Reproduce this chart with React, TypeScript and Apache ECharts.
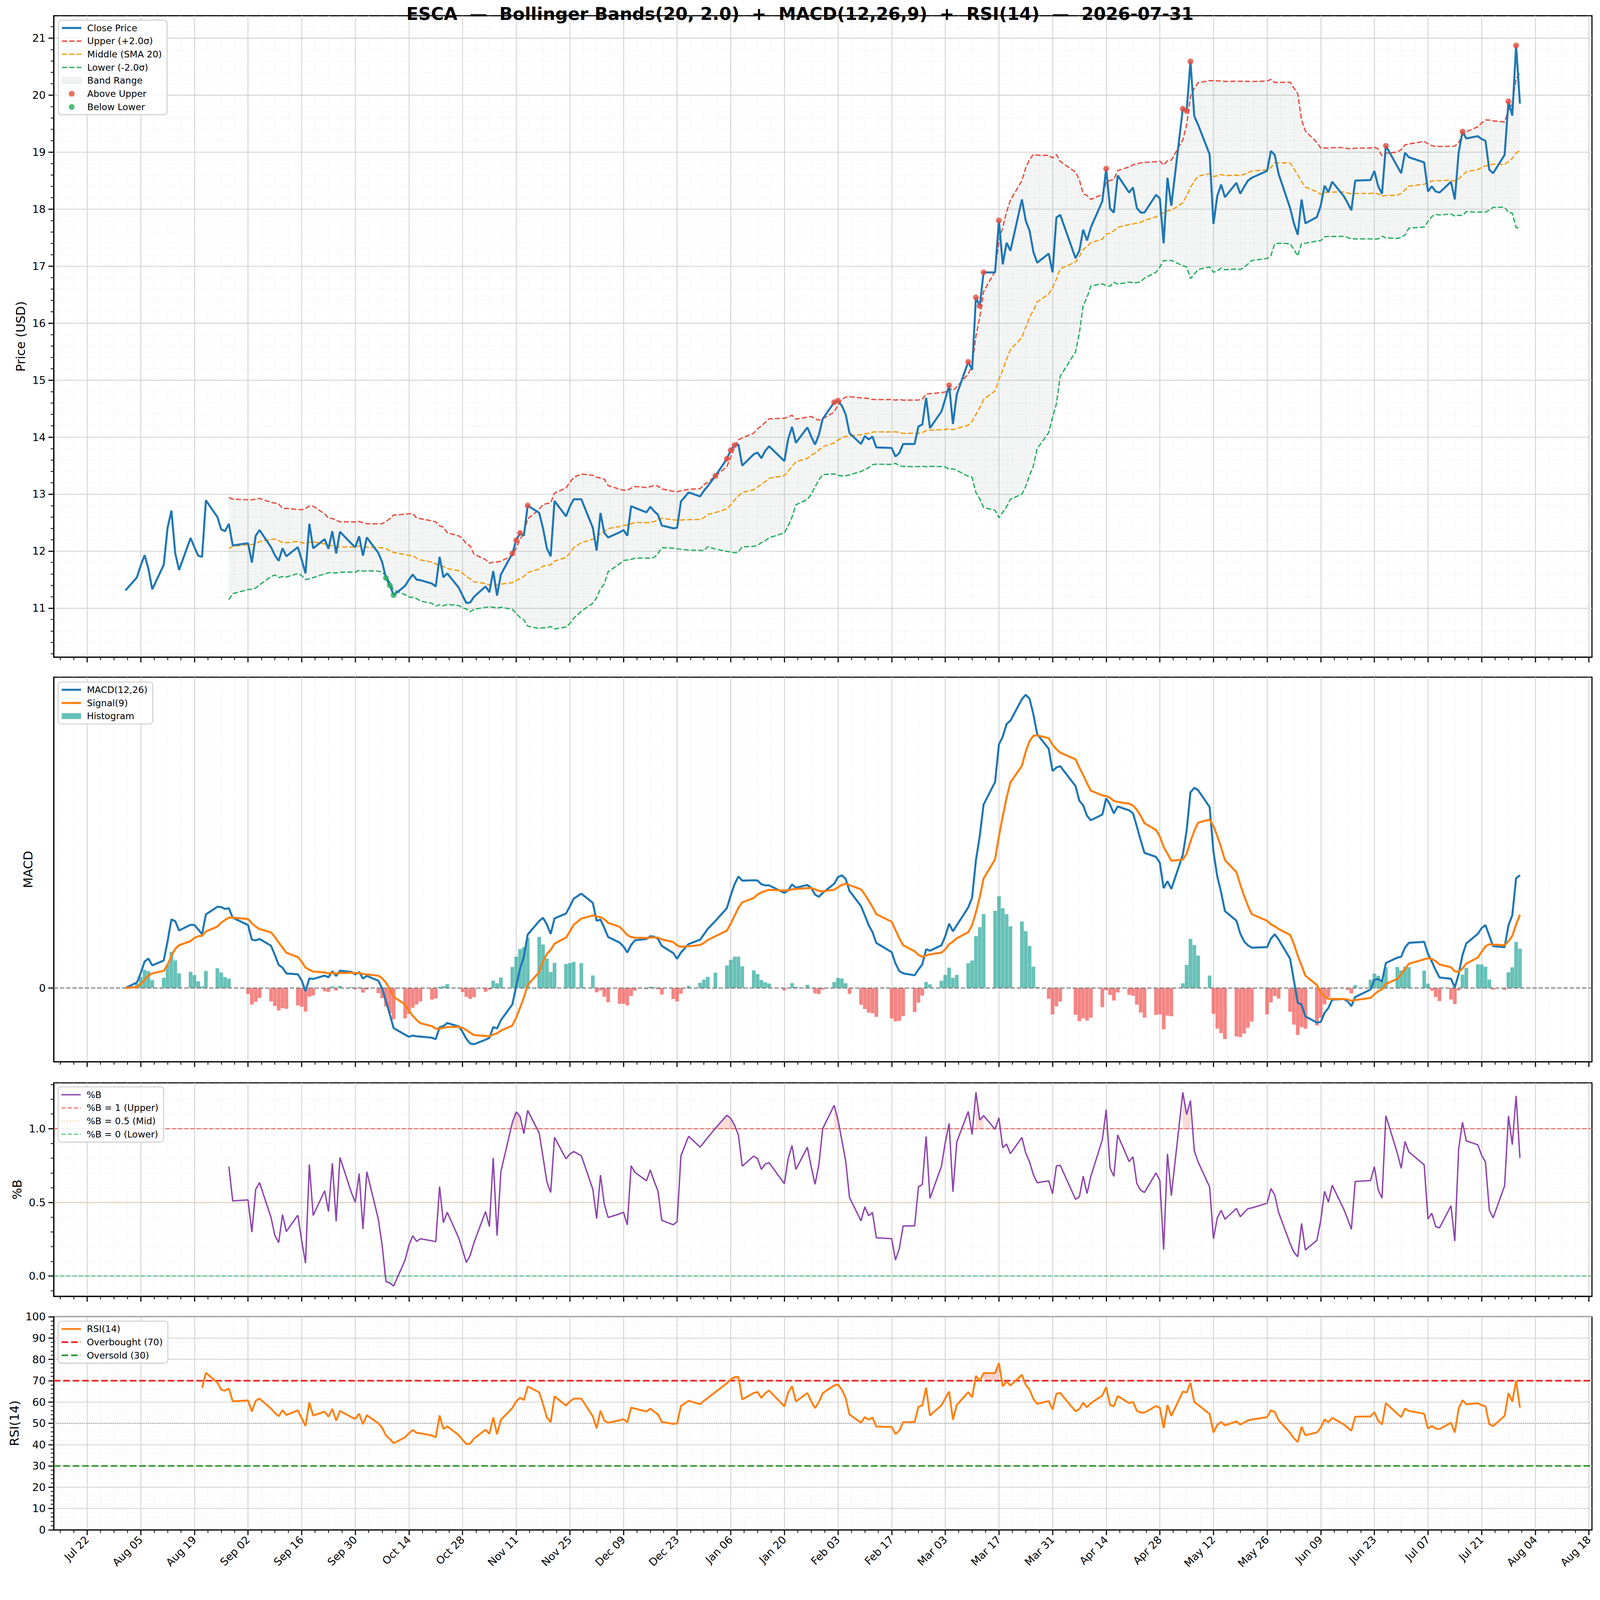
import React, { useEffect, useRef } from 'react';
import * as echarts from 'echarts';

const TITLE = 'ESCA  —  Bollinger Bands(20, 2.0)  +  MACD(12,26,9)  +  RSI(14)  —  2026-07-31';
const BASE_DATE = '2025-07-22';

const DATES = [
  '2025-08-01','2025-08-04','2025-08-05','2025-08-06','2025-08-07','2025-08-08','2025-08-11','2025-08-12','2025-08-13','2025-08-14','2025-08-15','2025-08-18','2025-08-19','2025-08-20','2025-08-21','2025-08-22','2025-08-25','2025-08-26','2025-08-27','2025-08-28','2025-08-29',
  '2025-09-02','2025-09-03','2025-09-04','2025-09-05','2025-09-08','2025-09-09','2025-09-10','2025-09-11','2025-09-12','2025-09-15','2025-09-16','2025-09-17','2025-09-18','2025-09-19','2025-09-22','2025-09-23','2025-09-24','2025-09-25','2025-09-26','2025-09-29','2025-09-30',
  '2025-10-01','2025-10-02','2025-10-03','2025-10-06','2025-10-07','2025-10-08','2025-10-09','2025-10-10','2025-10-13','2025-10-14','2025-10-15','2025-10-16','2025-10-17','2025-10-20','2025-10-21','2025-10-22','2025-10-23','2025-10-24','2025-10-27','2025-10-28','2025-10-29','2025-10-30','2025-10-31',
  '2025-11-03','2025-11-04','2025-11-05','2025-11-06','2025-11-07','2025-11-10','2025-11-11','2025-11-12','2025-11-13','2025-11-14','2025-11-17','2025-11-18','2025-11-19','2025-11-20','2025-11-21','2025-11-24','2025-11-25','2025-11-26','2025-11-28',
  '2025-12-01','2025-12-02','2025-12-03','2025-12-04','2025-12-05','2025-12-08','2025-12-09','2025-12-10','2025-12-11','2025-12-12','2025-12-15','2025-12-16','2025-12-17','2025-12-18','2025-12-19','2025-12-22','2025-12-23','2025-12-24','2025-12-26','2025-12-29','2025-12-30','2025-12-31',
  '2026-01-02','2026-01-05','2026-01-06','2026-01-07','2026-01-08','2026-01-09','2026-01-12','2026-01-13','2026-01-14','2026-01-15','2026-01-16','2026-01-20','2026-01-21','2026-01-22','2026-01-23','2026-01-26','2026-01-27','2026-01-28','2026-01-29','2026-01-30',
  '2026-02-02','2026-02-03','2026-02-04','2026-02-05','2026-02-06','2026-02-09','2026-02-10','2026-02-11','2026-02-12','2026-02-13','2026-02-17','2026-02-18','2026-02-19','2026-02-20','2026-02-23','2026-02-24','2026-02-25','2026-02-26','2026-02-27',
  '2026-03-02','2026-03-03','2026-03-04','2026-03-05','2026-03-06','2026-03-09','2026-03-10','2026-03-11','2026-03-12','2026-03-13','2026-03-16','2026-03-17','2026-03-18','2026-03-19','2026-03-20','2026-03-23','2026-03-24','2026-03-25','2026-03-26','2026-03-27','2026-03-30','2026-03-31',
  '2026-04-01','2026-04-02','2026-04-06','2026-04-07','2026-04-08','2026-04-09','2026-04-10','2026-04-13','2026-04-14','2026-04-15','2026-04-16','2026-04-17','2026-04-20','2026-04-21','2026-04-22','2026-04-23','2026-04-24','2026-04-27','2026-04-28','2026-04-29','2026-04-30',
  '2026-05-01','2026-05-04','2026-05-05','2026-05-06','2026-05-07','2026-05-08','2026-05-11','2026-05-12','2026-05-13','2026-05-14','2026-05-15','2026-05-18','2026-05-19','2026-05-20','2026-05-21','2026-05-22','2026-05-26','2026-05-27','2026-05-28','2026-05-29',
  '2026-06-01','2026-06-02','2026-06-03','2026-06-04','2026-06-05','2026-06-08','2026-06-09','2026-06-10','2026-06-11','2026-06-12','2026-06-15','2026-06-16','2026-06-17','2026-06-18','2026-06-22','2026-06-23','2026-06-24','2026-06-25','2026-06-26','2026-06-29','2026-06-30',
  '2026-07-01','2026-07-02','2026-07-06','2026-07-07','2026-07-08','2026-07-09','2026-07-10','2026-07-13','2026-07-14','2026-07-15','2026-07-16','2026-07-17','2026-07-20','2026-07-21','2026-07-22','2026-07-23','2026-07-24','2026-07-27','2026-07-28','2026-07-29','2026-07-30','2026-07-31',
];

const CLOSE = [
  11.31,11.54,11.75,11.93,11.69,11.33,11.76,12.41,12.71,11.96,11.67,12.23,12.07,11.92,11.90,12.89,12.60,12.38,12.35,12.48,12.10,
  12.14,11.80,12.27,12.37,12.07,11.93,11.83,12.05,11.91,12.07,11.85,11.61,12.48,12.05,12.21,12.04,12.35,11.96,12.34,12.13,12.07,
  12.26,11.92,12.24,11.97,11.81,11.53,11.40,11.23,11.39,11.50,11.59,11.50,11.49,11.43,11.38,11.90,11.54,11.61,11.36,11.22,11.09,11.10,11.20,
  11.38,11.28,11.65,11.22,11.59,11.96,12.19,12.32,12.27,12.80,12.67,12.40,12.05,11.91,12.88,12.61,12.78,12.91,12.91,
  12.41,12.01,12.67,12.32,12.24,12.33,12.37,12.27,12.79,12.76,12.68,12.78,12.70,12.64,12.45,12.40,12.41,12.87,13.03,12.96,13.06,13.14,
  13.32,13.62,13.77,13.86,13.87,13.50,13.70,13.73,13.63,13.76,13.84,13.58,13.97,14.18,13.90,14.17,14.01,13.87,14.04,14.32,
  14.61,14.64,14.55,14.40,14.07,13.88,14.02,13.96,14.01,13.82,13.81,13.66,13.72,13.88,13.88,14.19,14.22,14.69,14.16,
  14.45,14.67,14.91,14.23,14.75,15.32,15.18,16.45,16.30,16.89,16.89,17.80,17.03,17.41,17.27,18.17,17.80,17.62,17.25,17.06,17.22,16.89,
  17.85,17.90,17.14,17.27,17.64,17.45,17.68,18.14,18.71,18.01,17.94,18.59,18.29,18.38,18.02,17.94,17.94,18.25,18.19,17.40,18.55,
  18.06,19.76,19.72,20.59,19.63,19.48,18.96,17.74,18.23,18.43,18.21,18.46,18.27,18.39,18.50,18.55,18.67,19.02,18.95,18.62,
  18.02,17.75,17.55,18.17,17.75,17.86,18.06,18.41,18.30,18.48,18.23,18.11,17.98,18.50,18.51,18.67,18.40,18.27,19.11,18.75,18.63,
  18.99,18.91,18.82,18.31,18.40,18.31,18.29,18.48,18.17,18.99,19.36,19.24,19.28,19.23,19.20,18.69,18.63,18.95,19.89,19.64,20.87,19.85,
];

const X_TICK_DATES = [
  '2025-07-22','2025-08-05','2025-08-19','2025-09-02','2025-09-16','2025-09-30','2025-10-14','2025-10-28','2025-11-11','2025-11-25','2025-12-09','2025-12-23',
  '2026-01-06','2026-01-20','2026-02-03','2026-02-17','2026-03-03','2026-03-17','2026-03-31','2026-04-14','2026-04-28','2026-05-12','2026-05-26','2026-06-09',
  '2026-06-23','2026-07-07','2026-07-21','2026-08-04','2026-08-18',
];
const MONTHS = ['Jan','Feb','Mar','Apr','May','Jun','Jul','Aug','Sep','Oct','Nov','Dec'];
const PRICE_TICKS = [11, 12, 13, 14, 15, 16, 17, 18, 19, 20, 21];
const PCTB_TICKS = [0, 0.5, 1.0];
const RSI_TICKS = [0, 10, 20, 30, 40, 50, 60, 70, 80, 90, 100];
const MACD_TICKS = [0];

const BB_WINDOW = 20, BB_K = 2.0, RSI_N = 14;

const FONT = 'DejaVu Sans';
const W = 4378, H = 4322;
const X_MIN = -8.72, X_MAX = 392.8;
const PRICE_MIN = 10.141, PRICE_MAX = 21.393;
const PCTB_MIN = -0.1373, PCTB_MAX = 1.3107;

const ms = (s: string) => { const [y, m, d] = s.split('-').map(Number); return Date.UTC(y, m - 1, d); };
const BASE_MS = ms(BASE_DATE);
const dayNum = (s: string) => (ms(s) - BASE_MS) / 86400000;
const fmtDay = (v: number) => {
  const t = new Date(BASE_MS + Math.round(v) * 86400000);
  return MONTHS[t.getUTCMonth()] + ' ' + String(t.getUTCDate()).padStart(2, '0');
};

function compute() {
  const xs = DATES.map(dayNum);
  const n = CLOSE.length;
  const upper: (number | null)[] = [], mid: (number | null)[] = [], lower: (number | null)[] = [], pctb: (number | null)[] = [];
  for (let i = 0; i < n; i++) {
    if (i < BB_WINDOW - 1) { upper.push(null); mid.push(null); lower.push(null); pctb.push(null); continue; }
    const w = CLOSE.slice(i - BB_WINDOW + 1, i + 1);
    const m = w.reduce((a, b) => a + b, 0) / BB_WINDOW;
    const sd = Math.sqrt(w.reduce((a, b) => a + (b - m) * (b - m), 0) / (BB_WINDOW - 1));
    const u = m + BB_K * sd, l = m - BB_K * sd;
    upper.push(u); mid.push(m); lower.push(l); pctb.push((CLOSE[i] - l) / (u - l));
  }
  const ema = (arr: number[], span: number) => {
    const a = 2 / (span + 1); const out: number[] = [];
    arr.forEach((v, i) => out.push(i === 0 ? v : a * v + (1 - a) * out[i - 1]));
    return out;
  };
  const e12 = ema(CLOSE, 12), e26 = ema(CLOSE, 26);
  const macd = e12.map((v, i) => v - e26[i]);
  const signal = ema(macd, 9);
  const hist = macd.map((v, i) => v - signal[i]);
  const rsi: (number | null)[] = [null];
  let ag = 0, al = 0;
  const alpha = 1 / RSI_N;
  for (let i = 1; i < n; i++) {
    const d = CLOSE[i] - CLOSE[i - 1];
    const g = Math.max(d, 0), l = Math.max(-d, 0);
    if (i === 1) { ag = g; al = l; } else { ag = (1 - alpha) * ag + alpha * g; al = (1 - alpha) * al + alpha * l; }
    rsi.push(i >= RSI_N ? (al === 0 ? 100 : 100 - 100 / (1 + ag / al)) : null);
  }
  return { xs, upper, mid, lower, pctb, macd, signal, hist, rsi };
}

function fillRuns(ys: (number | null)[], thr: number, above: boolean) {
  const runs: number[][] = [];
  let cur: number[] = [];
  for (let i = 0; i < ys.length; i++) {
    const y = ys[i];
    const ok = y != null && (above ? y > thr : y < thr);
    if (ok) cur.push(i); else { if (cur.length > 1) runs.push(cur); cur = []; }
  }
  if (cur.length > 1) runs.push(cur);
  return runs;
}

export default function App() {
  const ref = useRef<HTMLDivElement>(null);
  const vw = typeof window !== 'undefined' ? window.innerWidth : W;
  const vh = typeof window !== 'undefined' ? window.innerHeight : H;
  const s = Math.min(1, vw / W, vh / H);

  useEffect(() => {
    document.body.style.margin = '0';
    document.body.style.overflow = 'hidden';
    if (!ref.current) return;
    const chart = echarts.init(ref.current, null, { renderer: 'svg', width: W, height: H });
    const D = compute();
    const { xs } = D;
    const pair = (a: (number | null)[]) => a.map((v, i) => [xs[i], v]).filter(p => p[1] != null);

    const xMajor = X_TICK_DATES.map(dayNum);
    const xMinor: number[] = [];
    for (let k = -2; k * 3.5 <= X_MAX; k++) { if (k % 4 !== 0) xMinor.push(k * 3.5); }
    const priceMinor: number[] = [];
    for (let k = 51; k <= 106; k++) if (k % 5 !== 0) priceMinor.push(+(k * 0.2).toFixed(2));
    const pctbMinor: number[] = [];
    for (let k = -1; k <= 13; k++) if (k % 5 !== 0) pctbMinor.push(+(k * 0.1).toFixed(2));
    const rsiMinor: number[] = [];
    for (let k = 1; k < 50; k++) if (k % 5 !== 0) rsiMinor.push(k * 2);

    const allM = [...D.macd, ...D.signal, ...D.hist];
    const mMin = Math.min(...allM), mMax = Math.max(...allM);
    const mPad = (mMax - mMin) * 0.05;

    const GRIDS = [
      { top: 43, height: 1755 },
      { top: 1853, height: 1052 },
      { top: 2963, height: 584 },
      { top: 3603, height: 583 },
    ];
    const grid = GRIDS.map(g => ({ left: 147, width: 4209, top: g.top, height: g.height, show: true, borderColor: '#000', borderWidth: 3, backgroundColor: 'transparent' }));

    const majorSplit = { show: true, lineStyle: { color: '#d4d4d4', width: 2.5 } };
    const minorSplit = { show: true, lineStyle: { color: '#e4e4e4', width: 1.5, type: [2, 4] } };
    const tickStyle = { color: '#000', width: 3 };
    const labelBase = { color: '#000', fontSize: 29, fontFamily: FONT };

    const xAxis: any[] = [];
    for (let gi = 0; gi < 4; gi++) {
      xAxis.push({
        type: 'value', gridIndex: gi, min: X_MIN, max: X_MAX, position: 'bottom',
        axisLine: { show: true, onZero: false, lineStyle: { color: '#000', width: 3 } },
        axisTick: { show: true, customValues: xMajor, length: 14.6, lineStyle: tickStyle },
        axisLabel: gi === 3 ? { ...labelBase, show: true, customValues: xMajor, formatter: (v: number) => fmtDay(v), rotate: 45, margin: 22 } : { show: false },
        splitLine: majorSplit,
      });
      xAxis.push({
        type: 'value', gridIndex: gi, min: X_MIN, max: X_MAX, position: 'bottom',
        axisLine: { show: false, onZero: false },
        axisTick: { show: true, customValues: xMinor, length: 8.3, lineStyle: { color: '#000', width: 2.2 } },
        axisLabel: { show: false },
        splitLine: minorSplit,
      });
    }

    const nameStyle = { color: '#000', fontSize: 34, fontFamily: FONT };
    const yMajor = (gi: number, min: number, max: number, ticks: number[], fmt: (v: number) => string, name: string, nameGap: number, split = true) => ({
      type: 'value', gridIndex: gi, min, max, position: 'left',
      name, nameLocation: 'middle', nameGap, nameTextStyle: nameStyle,
      axisLine: { show: true, onZero: false, lineStyle: { color: '#000', width: 3 } },
      axisTick: { show: true, customValues: ticks, length: 14.6, lineStyle: tickStyle },
      axisLabel: { ...labelBase, show: true, customValues: ticks, formatter: fmt, margin: 22 },
      splitLine: split ? majorSplit : { show: false },
    });
    const yMinor = (gi: number, min: number, max: number, ticks: number[]) => ({
      type: 'value', gridIndex: gi, min, max, position: 'left',
      axisLine: { show: false, onZero: false },
      axisTick: { show: true, customValues: ticks, length: 8.3, lineStyle: { color: '#000', width: 2.2 } },
      axisLabel: { show: false },
      splitLine: minorSplit,
    });
    const yAxis: any[] = [
      yMajor(0, PRICE_MIN, PRICE_MAX, PRICE_TICKS, v => String(Math.round(v)), 'Price (USD)', 74),
      yMinor(0, PRICE_MIN, PRICE_MAX, priceMinor),
      yMajor(1, mMin - mPad, mMax + mPad, MACD_TICKS, () => '0', 'MACD', 54, false),
      yMajor(2, PCTB_MIN, PCTB_MAX, PCTB_TICKS, v => v.toFixed(1), '%B', 84),
      yMinor(2, PCTB_MIN, PCTB_MAX, pctbMinor),
      yMajor(3, 0, 100, RSI_TICKS, v => String(Math.round(v)), 'RSI(14)', 91),
      yMinor(3, 0, 100, rsiMinor),
    ];

    const bandIdx = xs.map((_, i) => i).filter(i => D.upper[i] != null);
    const polyRuns = (runs: number[][], ys: (number | null)[], thr: number, api: any, fill: string) =>
      runs.map(run => {
        const pts = run.map(i => api.coord([xs[i], ys[i] as number]));
        for (let j = run.length - 1; j >= 0; j--) pts.push(api.coord([xs[run[j]], thr]));
        return { type: 'polygon', shape: { points: pts }, style: { fill } };
      });

    const pbHigh = fillRuns(D.pctb, 1, true), pbLow = fillRuns(D.pctb, 0, false);
    const rsiHigh = fillRuns(D.rsi, 70, true), rsiLow = fillRuns(D.rsi, 30, false);

    const above = bandIdx.filter(i => CLOSE[i] > (D.upper[i] as number)).map(i => [xs[i], CLOSE[i]]);
    const below = bandIdx.filter(i => CLOSE[i] < (D.lower[i] as number)).map(i => [xs[i], CLOSE[i]]);
    const span = (y: number) => [[X_MIN, y], [X_MAX, y]];

    const dashBand = (color: string) => ({ color, width: 3.6, type: [14, 6] });

    const series: any[] = [
      {
        type: 'custom', name: 'Band Range', xAxisIndex: 0, yAxisIndex: 0, z: 1, silent: true,
        itemStyle: { color: 'rgba(149,165,166,0.13)' },
        data: [[xs[bandIdx[0]], D.upper[bandIdx[0]]]],
        renderItem: (_p: any, api: any) => {
          const pts = bandIdx.map(i => api.coord([xs[i], D.upper[i]]));
          for (let j = bandIdx.length - 1; j >= 0; j--) pts.push(api.coord([xs[bandIdx[j]], D.lower[bandIdx[j]]]));
          return { type: 'polygon', shape: { points: pts }, style: { fill: 'rgba(149,165,166,0.11)' } };
        },
      },
      { type: 'line', name: 'Upper (+2.0σ)', xAxisIndex: 0, yAxisIndex: 0, symbol: 'none', z: 2, color: '#e74c3c', lineStyle: dashBand('#e74c3c'), data: pair(D.upper) },
      { type: 'line', name: 'Middle (SMA 20)', xAxisIndex: 0, yAxisIndex: 0, symbol: 'none', z: 2, color: '#f39c12', lineStyle: dashBand('#f39c12'), data: pair(D.mid) },
      { type: 'line', name: 'Lower (-2.0σ)', xAxisIndex: 0, yAxisIndex: 0, symbol: 'none', z: 2, color: '#27ae60', lineStyle: dashBand('#27ae60'), data: pair(D.lower) },
      { type: 'line', name: 'Close Price', xAxisIndex: 0, yAxisIndex: 0, symbol: 'none', z: 3, color: '#1f77b4', lineStyle: { color: '#1f77b4', width: 5.5 }, data: xs.map((x, i) => [x, CLOSE[i]]) },
      { type: 'scatter', name: 'Above Upper', xAxisIndex: 0, yAxisIndex: 0, symbol: 'circle', symbolSize: 16, z: 4, itemStyle: { color: '#e74c3c' }, data: above },
      { type: 'scatter', name: 'Below Lower', xAxisIndex: 0, yAxisIndex: 0, symbol: 'circle', symbolSize: 16, z: 4, itemStyle: { color: '#27ae60' }, data: below },

      {
        type: 'bar', name: 'Histogram', xAxisIndex: 2, yAxisIndex: 2, barWidth: 10, z: 1, itemStyle: { color: 'rgba(38,166,154,0.7)' },
        data: D.hist.map((h, i) => ({ value: [xs[i], h], itemStyle: { color: h >= 0 ? 'rgba(38,166,154,0.7)' : 'rgba(239,83,80,0.7)' } })),
      },
      { type: 'line', xAxisIndex: 2, yAxisIndex: 2, symbol: 'none', silent: true, z: 2, lineStyle: { color: '#808080', width: 3, type: [12, 5] }, data: span(0) },
      { type: 'line', name: 'MACD(12,26)', xAxisIndex: 2, yAxisIndex: 2, symbol: 'none', z: 3, color: '#1f77b4', lineStyle: { color: '#1f77b4', width: 5.5 }, data: xs.map((x, i) => [x, D.macd[i]]) },
      { type: 'line', name: 'Signal(9)', xAxisIndex: 2, yAxisIndex: 2, symbol: 'none', z: 3, color: '#ff7f0e', lineStyle: { color: '#ff7f0e', width: 5.5 }, data: xs.map((x, i) => [x, D.signal[i]]) },

      {
        type: 'custom', xAxisIndex: 4, yAxisIndex: 3, z: 1, silent: true, data: [[0, 0.5]],
        renderItem: (_p: any, api: any) => ({
          type: 'group',
          children: [
            ...polyRuns(pbHigh, D.pctb, 1, api, 'rgba(231,76,60,0.2)'),
            ...polyRuns(pbLow, D.pctb, 0, api, 'rgba(39,174,96,0.2)'),
          ],
        }),
      },
      { type: 'line', name: '%B = 1 (Upper)', xAxisIndex: 4, yAxisIndex: 3, symbol: 'none', z: 2, color: 'rgba(231,76,60,0.75)', lineStyle: { color: 'rgba(231,76,60,0.75)', width: 3, type: [12, 5] }, data: span(1) },
      { type: 'line', name: '%B = 0.5 (Mid)', xAxisIndex: 4, yAxisIndex: 3, symbol: 'none', z: 2, color: 'rgba(243,156,18,0.55)', lineStyle: { color: 'rgba(243,156,18,0.55)', width: 2.5, type: [3, 5] }, data: span(0.5) },
      { type: 'line', name: '%B = 0 (Lower)', xAxisIndex: 4, yAxisIndex: 3, symbol: 'none', z: 2, color: 'rgba(39,174,96,0.75)', lineStyle: { color: 'rgba(39,174,96,0.75)', width: 3, type: [12, 5] }, data: span(0) },
      { type: 'line', name: '%B', xAxisIndex: 4, yAxisIndex: 3, symbol: 'none', z: 3, color: '#8e44ad', lineStyle: { color: '#8e44ad', width: 3.8 }, data: pair(D.pctb) },

      {
        type: 'custom', xAxisIndex: 6, yAxisIndex: 5, z: 1, silent: true, data: [[0, 50]],
        renderItem: (_p: any, api: any) => ({
          type: 'group',
          children: [
            ...polyRuns(rsiHigh, D.rsi, 70, api, 'rgba(231,76,60,0.25)'),
            ...polyRuns(rsiLow, D.rsi, 30, api, 'rgba(39,174,96,0.25)'),
          ],
        }),
      },
      { type: 'line', name: 'Overbought (70)', xAxisIndex: 6, yAxisIndex: 5, symbol: 'none', z: 2, color: '#ee2222', lineStyle: { color: '#ee2222', width: 4.5, type: [18, 8] }, data: span(70) },
      { type: 'line', name: 'Oversold (30)', xAxisIndex: 6, yAxisIndex: 5, symbol: 'none', z: 2, color: '#2a962a', lineStyle: { color: '#2a962a', width: 4.5, type: [18, 8] }, data: span(30) },
      { type: 'line', xAxisIndex: 6, yAxisIndex: 5, symbol: 'none', silent: true, z: 2, lineStyle: { color: 'rgba(128,128,128,0.8)', width: 2.5, type: [2, 4] }, data: span(50) },
      { type: 'line', name: 'RSI(14)', xAxisIndex: 6, yAxisIndex: 5, symbol: 'none', z: 3, color: '#ff7f0e', lineStyle: { color: '#ff7f0e', width: 5 }, data: pair(D.rsi) },
    ];

    const noDot = { color: 'rgba(0,0,0,0)', borderColor: 'rgba(0,0,0,0)', borderWidth: 0 };
    const ln = (name: string) => ({ name, itemStyle: noDot });
    const legendBase = {
      orient: 'vertical', selectedMode: false, itemWidth: 53, itemHeight: 16, itemGap: 11,
      backgroundColor: 'rgba(255,255,255,0.85)', borderColor: '#cccccc', borderWidth: 2.5, borderRadius: 8,
      padding: [9, 14, 9, 7],
      lineStyle: { width: 'inherit', type: 'inherit', color: 'inherit' },
      textStyle: { color: '#000', fontSize: 25, fontFamily: FONT, lineHeight: 25, padding: [0, 0, 0, 11] },
    };
    const legend = [
      {
        ...legendBase, left: 160, top: 55,
        data: [
          ln('Close Price'), ln('Upper (+2.0σ)'), ln('Middle (SMA 20)'), ln('Lower (-2.0σ)'),
          { name: 'Band Range', icon: 'rect', itemStyle: { color: 'rgba(149,165,166,0.13)', borderColor: 'rgba(149,165,166,0.3)', borderWidth: 1 } },
          { name: 'Above Upper', icon: 'circle' }, { name: 'Below Lower', icon: 'circle' },
        ],
      },
      { ...legendBase, left: 159, top: 1866, data: [ln('MACD(12,26)'), ln('Signal(9)'), { name: 'Histogram', icon: 'rect' }] },
      { ...legendBase, left: 159, top: 2974, data: [ln('%B'), ln('%B = 1 (Upper)'), ln('%B = 0.5 (Mid)'), ln('%B = 0 (Lower)')] },
      { ...legendBase, left: 159, top: 3615, data: [ln('RSI(14)'), ln('Overbought (70)'), ln('Oversold (30)')] },
    ];

    chart.setOption({
      animation: false,
      backgroundColor: '#ffffff',
      textStyle: { fontFamily: FONT },
      title: { text: TITLE, left: 'center', top: 14, padding: 0, textStyle: { fontSize: 48, fontWeight: 'bold', color: '#000', fontFamily: FONT } },
      legend, grid, xAxis, yAxis, series,
    });
    return () => chart.dispose();
  }, []);

  return (
    <div style={{ width: W * s, height: H * s, overflow: 'hidden', background: '#fff' }}>
      <div ref={ref} style={{ width: W, height: H, transform: `scale(${s})`, transformOrigin: '0 0' }} />
    </div>
  );
}
